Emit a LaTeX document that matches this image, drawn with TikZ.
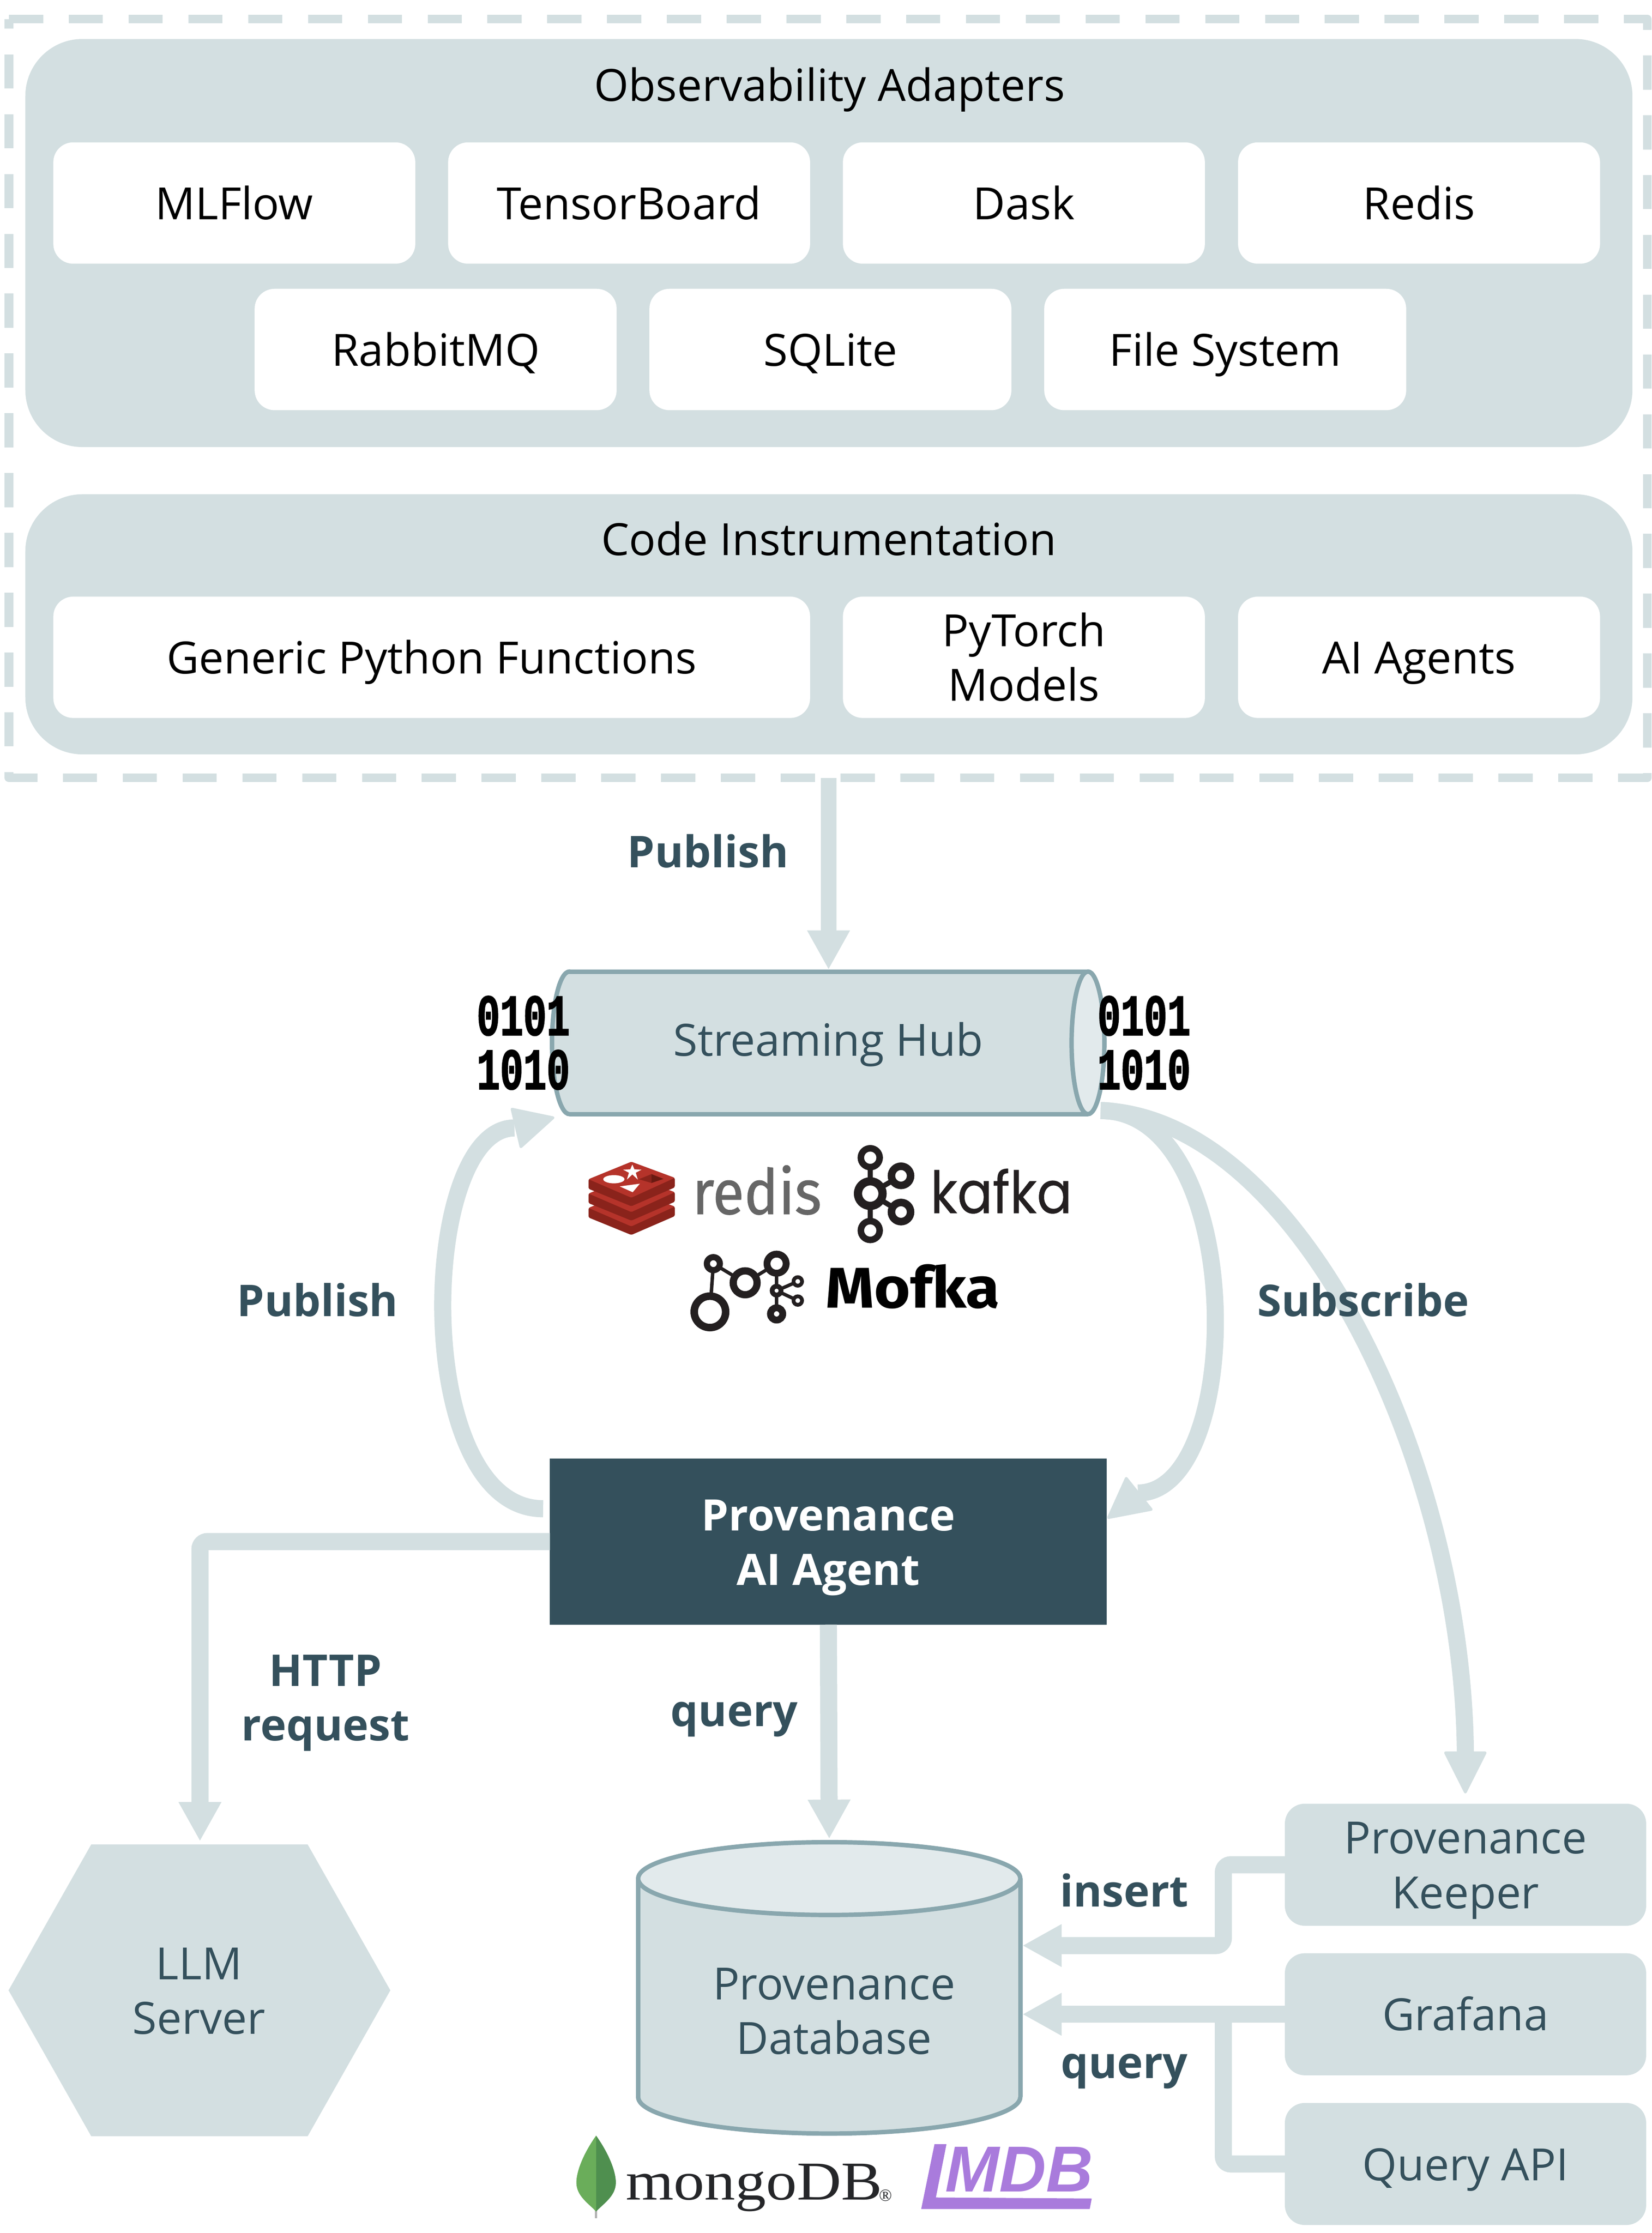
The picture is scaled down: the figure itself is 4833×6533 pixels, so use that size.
\documentclass[tikz,border=0pt]{standalone}
\usepackage{fontspec}
\setmainfont{Open Sans}
\newfontfamily\redisfont[FakeBold=0.8,FakeStretch=0.92]{Fira Sans}
\newfontfamily\kafkafont[FakeBold=0.5,FakeStretch=0.9]{Poppins}
\newfontfamily\mofkafont[FakeStretch=1.08]{Fira Sans}
\newfontfamily\mongofont[FakeStretch=1.126]{Liberation Serif}
\newfontfamily\mongosmall{Liberation Serif}
\newfontfamily\lmdbfont{Liberation Sans}
\newfontfamily\bitsfont[FakeStretch=0.66,FakeBold=1.5]{Liberation Mono}
\newcommand\lh{\rule[-3.2pt]{0pt}{16pt}}
\usetikzlibrary{arrows.meta,calc}
\definecolor{panel}{HTML}{D3DFE1}
\definecolor{lightp}{HTML}{E2EAEC}
\definecolor{ink}{HTML}{34505C}
\definecolor{edge}{HTML}{89A7AE}
\definecolor{kblack}{HTML}{231F20}
\definecolor{rbright}{HTML}{B5332A}
\definecolor{rdark}{HTML}{8A231B}
\definecolor{rdarkest}{HTML}{6A1A12}
\definecolor{purple2}{HTML}{A97BDC}
\definecolor{leafa}{HTML}{6AAD5A}
\definecolor{leafb}{HTML}{4F8F4F}
\tikzset{
  x=0.1pt,y=-0.1pt,
  every node/.style={inner sep=0pt,outer sep=0pt},
  txt/.style={font=\fontsize{13}{16}\selectfont,align=center},
  lab/.style={txt,font=\fontsize{12.8}{16}\selectfont\bfseries,text=ink},
  panelbox/.style={fill=panel,rounded corners=16.7pt,minimum width=470.2pt},
  whitebox/.style={txt,fill=white,rounded corners=5.8pt,minimum width=105.9pt,minimum height=35.5pt},
  toolbox/.style={txt,text=ink,fill=panel,rounded corners=5.8pt,minimum width=105.7pt,minimum height=35.7pt},
  conn/.style={draw=panel,line width=5pt,rounded corners=2.2pt},
  tipconn/.style={conn,-{Triangle[length=11.5pt,width=11.7pt]}},
  headtri/.style={fill=panel,draw=panel,line width=0.8pt,line join=round},
  cyl/.style={draw=edge,line width=1.3pt,fill=panel},
  bits/.style={font=\fontsize{17.2}{15.8}\selectfont\bitsfont\bfseries,align=center},
}
\begin{document}
\begin{tikzpicture}
\useasboundingbox (0,0) rectangle (4833,6533);
% frame
\node[minimum width=479.4pt,minimum height=222pt] (frame) at (2423,1166) {};
\draw[draw=panel,line width=2.5pt,line join=round,dash pattern=on 10pt off 7.5pt]
  (frame.north west) -- (frame.north east) -- (frame.south east) -- (frame.south west) -- cycle;
% panels
\node[panelbox,minimum height=119.4pt] (pa) at (2425,711) {};
\node[panelbox,minimum height=76.1pt] (pb) at (2425,1826.5) {};
\node[txt] (pat) at (2427,248) {\lh Observability Adapters};
\node[txt] (pbt) at (2425,1577) {\lh Code Instrumentation};
\node[whitebox] (mlflow) at (685.5,594) {\lh MLFlow};
\node[whitebox] (tboard) at (1840.5,594) {\lh TensorBoard};
\node[whitebox] (dask) at (2995.5,594) {\lh Dask};
\node[whitebox] (redisb) at (4151.5,594) {\lh Redis};
\node[whitebox] (rabbit) at (1274.5,1022.5) {\lh RabbitMQ};
\node[whitebox] (sqlite) at (2429.5,1022.5) {\lh SQLite};
\node[whitebox] (files) at (3584.5,1022.5) {\lh File System};
\node[whitebox,minimum width=221.4pt] (generic) at (1263,1923) {\lh Generic Python Functions};
\node[whitebox] (pytorch) at (2995.5,1923) {\lh PyTorch\\\lh Models};
\node[whitebox] (agents) at (4151.5,1923) {\lh AI Agents};
% hub
\draw[cyl] (1666,3051) ellipse [x radius=51,y radius=208.5];
\fill[panel] (1666,2843) rectangle (3183,3260);
\draw[edge,line width=1.3pt] (1666,2843) -- (3183,2843) (1666,3260) -- (3183,3260);
\draw[cyl,fill=lightp] (3183,3051) ellipse [x radius=48,y radius=208.5];
\node[minimum width=161.6pt,minimum height=42.8pt] (hub) at (2424,3051) {};
\node[txt,text=ink] (hublab) at (2423,3042) {\lh Streaming Hub};
\node[bits] (bl) at (1531,3051) {0101\\1010};
\node[bits] (br) at (3347,3051) {0101\\1010};
% agent
\node[txt,font=\fontsize{12.7}{16}\selectfont\bfseries,text=white,fill=ink,minimum width=162.9pt,minimum height=48.6pt] (agent) at (2423.5,4510) {\lh Provenance\\\lh AI Agent};
% llm
\draw[fill=panel,draw=none] (25,5823) -- (267,5396) -- (900,5396) -- (1142,5823) -- (900,6250) -- (267,6250) -- cycle;
\node[txt,text=ink,minimum width=100pt,minimum height=85.4pt] (llm) at (582,5823) {\lh LLM\\\lh Server};
% database
\draw[cyl] (2426,6135) ellipse [x radius=559,y radius=107];
\fill[panel] (1867,5496) rectangle (2985,6135);
\draw[edge,line width=1.3pt] (1867,5496) -- (1867,6135) (2985,5496) -- (2985,6135);
\draw[cyl,fill=lightp] (2426,5496) ellipse [x radius=559,y radius=106.5];
\node[minimum width=112pt,minimum height=86pt] (db) at (2426,5815) {};
\node[txt,text=ink] (dblab) at (2440,5882) {\lh Provenance\\\lh Database};
% tools
\node[toolbox] (keeper) at (4287.5,5455.5) {\lh Provenance\\\lh Keeper};
\node[toolbox] (grafana) at (4287.5,5893) {\lh Grafana};
\node[toolbox] (qapi) at (4287.5,6331) {\lh Query API};
% connectors
\coordinate (hubout) at (3220,3249);
\coordinate (agentend) at (3329,4368);
\coordinate (keepend) at (4287,5128);
\coordinate (leftstart) at (1589,4414);
\coordinate (leftend) at (1505,3300);
\coordinate (jx) at (3579,5692);
\coordinate (instip) at (2991,5692);
\coordinate (qtip) at (2991,5893);
\coordinate (corner) at (585,4510);
\coordinate (llmtip) at (585,5387);
\draw[tipconn,line width=4.6pt] (frame.south -| hub.north) -- (hub.north);
\draw[conn] (hubout) .. controls (3650,3249) and (3645,4368) .. (agentend);
\fill[headtri] (3243,4440) -- (3295,4325) -- (3368,4416) -- cycle;
\draw[conn] (hubout) .. controls (3800,3270) and (4280,4280) .. (keepend);
\fill[headtri] (4287,5243) -- (4229,5128) -- (4345,5128) -- cycle;
\draw[conn] (leftstart) .. controls (1200,4414) and (1224,3300) .. (leftend);
\fill[headtri] (1618,3270) -- (1498,3245) -- (1524,3355) -- cycle;
\draw[tipconn] (agent.west) -- (corner) -- (llmtip);
\draw[tipconn] (agent.south) -- (db.north |- 0,5380);
\draw[tipconn] (keeper.west) -- (jx |- keeper.west) -- (jx) -- (instip);
\draw[tipconn] (grafana.west) -- (qtip);
\draw[conn] (qapi.west) -- (jx |- qapi.west) -- (jx |- grafana.west);
% labels
\node[lab] (l1) at (2071,2490) {\lh Publish};
\node[lab] (l2) at (929,3803) {\lh Publish};
\node[lab] (l3) at (3988,3803) {\lh Subscribe};
\node[lab] (l4) at (952,4965) {\lh HTTP\\\lh request};
\node[lab] (l5) at (2148,5003) {\lh query};
\node[lab] (l6) at (3289,5530) {\lh insert};
\node[lab] (l7) at (3289,6032) {\lh query};
% redis logo
\foreach \s in {84,42,0}{
  \fill[rdark,rounded corners=0.4pt] (1722,3450+\s) -- (1722,3478+\s) -- (1847,3529+\s) -- (1974,3474+\s) -- (1974,3446+\s) -- (1847,3399+\s) -- cycle;
  \fill[rbright,rounded corners=0.4pt] (1722,3450+\s) -- (1847,3399+\s) -- (1974,3446+\s) -- (1847,3504+\s) -- cycle;
}
\fill[white] (1796,3450) ellipse [x radius=31,y radius=12];
\fill[white] (1813,3471) -- (1872,3463) -- (1851,3488) -- cycle;
\fill[white] (1850,3407) -- (1856,3421) -- (1877,3422) -- (1860,3431) -- (1866,3451) -- (1850,3436) -- (1834,3451) -- (1840,3431) -- (1823,3422) -- (1844,3421) -- cycle;
\fill[rdark] (1869,3450) -- (1906,3435) -- (1906,3461) -- cycle;
\fill[rdarkest] (1906,3435) -- (1941,3449) -- (1906,3461) -- cycle;
\node[anchor=base west,text=black!60!white,font=\fontsize{18.3}{20}\selectfont\redisfont] (redistxt) at (2025,3552) {redis};
% kafka logo
\draw[kblack,line width=1.5pt] (2546,3387) -- (2546,3600) (2546,3492) -- (2636,3440) (2546,3492) -- (2636,3546);
\draw[kblack,fill=white,line width=1.9pt] (2546,3387) circle [radius=27.5];
\draw[kblack,fill=white,line width=1.9pt] (2546,3600) circle [radius=27.5];
\draw[kblack,fill=white,line width=2.4pt] (2546,3492) circle [radius=36];
\draw[kblack,fill=white,line width=2.2pt] (2636,3440) circle [radius=28];
\draw[kblack,fill=white,line width=2.2pt] (2636,3546) circle [radius=28];
\node[anchor=base west,text=kblack,font=\fontsize{17}{20}\selectfont\kafkafont] (kafkatxt) at (2722,3549) {kafka};
% mofka logo
\draw[kblack,line width=1pt] (2087,3697) -- (2077,3838) (2087,3697) -- (2180,3753) (2180,3753) -- (2272,3697) -- (2272,3844) (2272,3776) -- (2334,3749) (2272,3776) -- (2334,3805);
\draw[kblack,fill=white,line width=2.2pt] (2077,3838) circle [radius=46];
\draw[kblack,fill=white,line width=1.8pt] (2087,3697) circle [radius=19];
\draw[kblack,fill=white,line width=2.1pt] (2180,3753) circle [radius=35];
\draw[kblack,fill=white,line width=2pt] (2272,3697) circle [radius=28];
\draw[kblack,fill=white,line width=1.4pt] (2272,3776) circle [radius=13];
\draw[kblack,fill=white,line width=1.1pt] (2334,3749) circle [radius=12.5];
\draw[kblack,fill=white,line width=1.1pt] (2334,3805) circle [radius=12.5];
\draw[kblack,fill=white,line width=2pt] (2272,3844) circle [radius=18];
\node[anchor=base west,text=black,font=\fontsize{16.8}{20}\selectfont\mofkafont\bfseries] (mofkatxt) at (2415,3826) {Mofka};
% mongodb logo
\fill[black!30!white] (1741,6440) rectangle (1747,6490);
\fill[leafa] (1744,6248) .. controls (1700,6310) and (1680,6370) .. (1688,6400) .. controls (1695,6430) and (1725,6450) .. (1744,6470) -- cycle;
\fill[leafb] (1744,6248) .. controls (1788,6310) and (1808,6370) .. (1800,6400) .. controls (1793,6430) and (1763,6450) .. (1744,6470) -- cycle;
\node[anchor=base west,text=kblack!85!ink,font=\fontsize{16}{20}\selectfont\mongofont] (mongotxt) at (1831,6435) {mongoDB};
\node[anchor=base west,text=kblack!85!ink,font=\fontsize{5}{6}\selectfont\mongosmall] (mongor) at (2572,6439) {®};
% lmdb logo
\fill[purple2] (2734,6273) -- (2769,6273) -- (2738,6429) -- (3194,6432) -- (3188,6463) -- (2695,6463) -- cycle;
\node[anchor=base west,text=purple2,font=\fontsize{19}{20}\selectfont\lmdbfont\bfseries\itshape] (lmdbtxt) at (2765,6412) {MDB};
\end{tikzpicture}
\end{document}
